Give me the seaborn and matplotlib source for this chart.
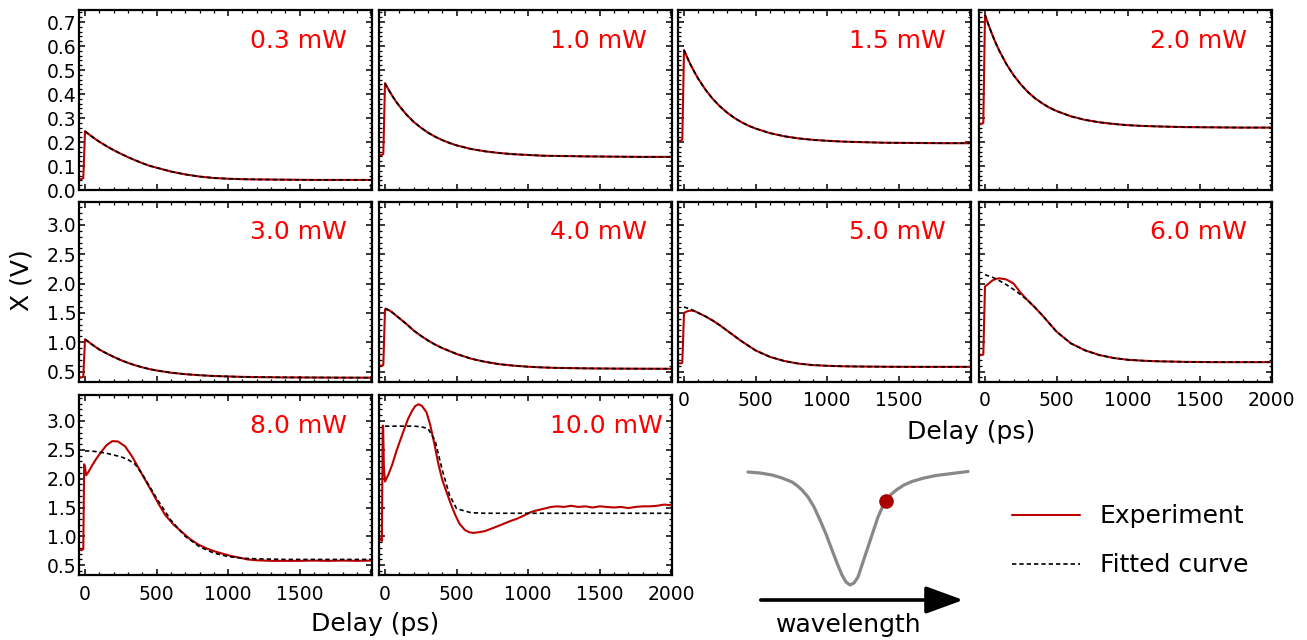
"""Pump-power series of X(V) transients with fitted curves, plus a probe-wavelength sketch."""
import matplotlib

matplotlib.use("Agg")
import matplotlib.pyplot as plt
import seaborn as sns
from matplotlib.ticker import AutoMinorLocator, MultipleLocator

# ---------------------------------------------------------------------------
# Data
# ---------------------------------------------------------------------------
# Common delay grid (ps) for the fitted curves
DELAY = [0, 25, 50, 75, 100, 150, 200, 250, 300, 350, 400, 450, 500,
         600, 700, 800, 900, 1000, 1100, 1200, 1400, 1600, 1800, 2000]
# Delay points before the pump arrives (experiment only)
PRE_DELAY = [-40, -25, -12]
EXP_DELAY = PRE_DELAY + DELAY

FIT_0_3 = [0.245, 0.233, 0.222, 0.211, 0.201, 0.183, 0.166, 0.151, 0.137, 0.124, 0.112, 0.101,
           0.093, 0.077, 0.065, 0.056, 0.050, 0.047, 0.045, 0.044, 0.043, 0.042, 0.042, 0.042]
FIT_1_0 = [0.445, 0.418, 0.393, 0.370, 0.350, 0.314, 0.284, 0.260, 0.239, 0.222, 0.208, 0.196,
           0.186, 0.171, 0.161, 0.154, 0.149, 0.146, 0.143, 0.142, 0.140, 0.139, 0.138, 0.138]
FIT_1_5 = [0.583, 0.549, 0.517, 0.489, 0.463, 0.418, 0.380, 0.349, 0.323, 0.301, 0.283, 0.268,
           0.256, 0.237, 0.224, 0.215, 0.209, 0.205, 0.202, 0.200, 0.197, 0.196, 0.195, 0.195]
FIT_2_0 = [0.730, 0.687, 0.648, 0.612, 0.580, 0.524, 0.478, 0.440, 0.408, 0.382, 0.361, 0.343,
           0.329, 0.307, 0.292, 0.282, 0.275, 0.270, 0.267, 0.265, 0.262, 0.261, 0.260, 0.260]
FIT_3_0 = [1.050, 1.005, 0.960, 0.917, 0.875, 0.810, 0.750, 0.695, 0.648, 0.607, 0.572, 0.542,
           0.518, 0.480, 0.455, 0.437, 0.424, 0.416, 0.409, 0.405, 0.400, 0.398, 0.396, 0.395]
FIT_4_0 = [1.58, 1.55, 1.51, 1.46, 1.41, 1.31, 1.20, 1.11, 1.03, 0.96, 0.90, 0.85,
           0.80, 0.72, 0.665, 0.625, 0.600, 0.582, 0.570, 0.562, 0.554, 0.550, 0.548, 0.547]
FIT_5_0 = [1.60, 1.58, 1.56, 1.53, 1.50, 1.44, 1.37, 1.29, 1.20, 1.11, 1.02, 0.94,
           0.86, 0.75, 0.68, 0.635, 0.610, 0.598, 0.590, 0.586, 0.582, 0.580, 0.580, 0.580]
FIT_6_0 = [2.15, 2.13, 2.11, 2.08, 2.05, 1.98, 1.90, 1.81, 1.71, 1.59, 1.46, 1.32,
           1.18, 0.98, 0.86, 0.78, 0.73, 0.70, 0.685, 0.675, 0.665, 0.660, 0.660, 0.660]
FIT_8_0 = [2.48, 2.48, 2.475, 2.47, 2.46, 2.44, 2.41, 2.38, 2.33, 2.25, 2.08, 1.87,
           1.66, 1.28, 1.00, 0.82, 0.71, 0.65, 0.62, 0.61, 0.60, 0.60, 0.60, 0.60]
FIT_10_0 = [2.91, 2.91, 2.91, 2.91, 2.91, 2.91, 2.91, 2.90, 2.87, 2.66, 2.15, 1.72,
            1.48, 1.41, 1.40, 1.40, 1.40, 1.40, 1.40, 1.40, 1.40, 1.40, 1.40, 1.40]

# Experiment traces: low baseline before time zero, then the measured decay
EXP_0_3 = [0.045, 0.045, 0.050] + FIT_0_3
EXP_1_0 = [0.145, 0.145, 0.150] + FIT_1_0
EXP_1_5 = [0.205, 0.205, 0.210] + FIT_1_5
EXP_2_0 = [0.275, 0.275, 0.280] + FIT_2_0
EXP_3_0 = [0.40, 0.40, 0.41] + FIT_3_0
EXP_4_0 = [0.60, 0.60, 0.61, 1.56, 1.55, 1.51, 1.46, 1.41, 1.31, 1.20, 1.11, 1.03, 0.96, 0.90,
           0.85, 0.80, 0.72, 0.665, 0.625, 0.600, 0.582, 0.570, 0.562, 0.554, 0.550, 0.548, 0.547]
EXP_5_0 = [0.64, 0.64, 0.65, 1.50, 1.53, 1.54, 1.53, 1.50, 1.44, 1.37, 1.29, 1.20, 1.11, 1.02,
           0.94, 0.86, 0.75, 0.68, 0.635, 0.610, 0.598, 0.590, 0.586, 0.582, 0.580, 0.580, 0.580]
EXP_6_0 = [0.78, 0.78, 0.79, 1.95, 2.00, 2.05, 2.08, 2.09, 2.07, 2.00, 1.84, 1.71, 1.59, 1.46,
           1.32, 1.18, 0.98, 0.86, 0.78, 0.73, 0.70, 0.685, 0.675, 0.665, 0.660, 0.660, 0.660]

EXP_DELAY_8 = [-40, -25, -12, -6, 0, 8, 25, 50, 75, 100, 150, 190, 230, 280, 330, 375, 420, 466,
               510, 560, 620, 675, 730, 790, 850, 905, 960, 1020, 1080, 1135, 1200, 1300, 1400,
               1500, 1600, 1700, 1800, 1900, 2000]
EXP_8_0 = [0.78, 0.76, 0.78, 2.25, 2.20, 2.06, 2.12, 2.23, 2.33, 2.42, 2.58, 2.65, 2.645, 2.56,
           2.38, 2.18, 1.98, 1.78, 1.58, 1.37, 1.20, 1.08, 0.96, 0.86, 0.79, 0.74, 0.70, 0.66,
           0.63, 0.60, 0.585, 0.575, 0.575, 0.575, 0.58, 0.575, 0.58, 0.575, 0.58]

EXP_DELAY_10 = [-40, -30, -22, -16, -13, -8, 0, 25, 50, 80, 120, 160, 190, 212, 235, 258, 290,
                316, 345, 374, 400, 431, 460, 489, 520, 558, 590, 616, 650, 697, 750, 812, 870,
                927, 970, 1019, 1060, 1112, 1160, 1204, 1250, 1300, 1350, 1400, 1450, 1500,
                1550, 1600, 1650, 1700, 1750, 1800, 1850, 1900, 1950, 2000]
EXP_10_0 = [0.97, 0.95, 0.92, 2.92, 2.90, 2.20, 1.95, 2.08, 2.24, 2.48, 2.76, 3.03, 3.18, 3.26,
            3.29, 3.26, 3.15, 2.93, 2.60, 2.24, 1.98, 1.76, 1.56, 1.38, 1.22, 1.11, 1.07, 1.06,
            1.07, 1.09, 1.14, 1.20, 1.26, 1.31, 1.36, 1.42, 1.45, 1.48, 1.51, 1.52, 1.51, 1.53,
            1.51, 1.52, 1.50, 1.52, 1.51, 1.50, 1.51, 1.49, 1.51, 1.52, 1.52, 1.53, 1.55, 1.54]

POWER_LABELS = ["0.3 mW", "1.0 mW", "1.5 mW", "2.0 mW", "3.0 mW",
                "4.0 mW", "5.0 mW", "6.0 mW", "8.0 mW", "10.0 mW"]

# Resonance sketch (arbitrary units)
SKETCH_WL = [8, 20, 32, 42, 52, 57, 62, 68, 74, 80, 86, 92, 97, 102, 106, 110, 114, 118, 123,
             128, 133, 138, 142, 146, 151, 157, 164, 172, 184, 196, 212, 228]
SKETCH_T = [138, 137, 135, 132, 128, 124.5, 120, 113, 103, 90, 76, 60, 47, 35, 28, 25, 27, 33,
            48, 63, 78, 93, 102, 109, 115.5, 120.5, 125, 128.5, 132, 134.5, 136.5, 138.5]
PROBE_WL = [146]
PROBE_T = [109]

# ---------------------------------------------------------------------------
# Layout (pixels of a 1307 x 640 canvas)
# ---------------------------------------------------------------------------
FIG_W, FIG_H = 1307, 640
COL_LEFT = [79, 379, 678, 979]
ROW_TOP = [10, 201.5, 395]
PANEL_W, PANEL_H = 293, 180
ROW_YLIM = [(0.0, 0.75), (0.33, 3.40), (0.33, 3.45)]
ROW_YSTEP = [0.1, 0.5, 0.5]

RED = "#bb0000"
FIT_STYLE = (0, (2.6, 1.8))

# (experiment x, experiment y, fit y) in panel order
PANEL_DATA = [
    (EXP_DELAY, EXP_0_3, FIT_0_3), (EXP_DELAY, EXP_1_0, FIT_1_0),
    (EXP_DELAY, EXP_1_5, FIT_1_5), (EXP_DELAY, EXP_2_0, FIT_2_0),
    (EXP_DELAY, EXP_3_0, FIT_3_0), (EXP_DELAY, EXP_4_0, FIT_4_0),
    (EXP_DELAY, EXP_5_0, FIT_5_0), (EXP_DELAY, EXP_6_0, FIT_6_0),
    (EXP_DELAY_8, EXP_8_0, FIT_8_0), (EXP_DELAY_10, EXP_10_0, FIT_10_0),
]
# panels that show delay tick labels, and those that drop the last one
SHOW_X_LABELS = {6, 7, 8, 9}
DROP_LAST_X = {6, 8}

sns.set_style("ticks")
plt.rcParams.update({
    "font.family": ["DejaVu Sans"],
    "axes.edgecolor": "black",
    "axes.linewidth": 1.6,
    "xtick.color": "black",
    "ytick.color": "black",
    "text.color": "black",
})


def px_rect(left, top, width, height):
    """Convert a pixel box (from top-left) to figure fractions."""
    return [left / FIG_W, 1 - (top + height) / FIG_H, width / FIG_W, height / FIG_H]


fig = plt.figure(figsize=(FIG_W / 100, FIG_H / 100), dpi=100)

axes = []
for i, ((exp_x, exp_y, fit_y), label) in enumerate(zip(PANEL_DATA, POWER_LABELS)):
    row, col = divmod(i, 4)
    ax = fig.add_axes(px_rect(COL_LEFT[col], ROW_TOP[row], PANEL_W, PANEL_H))
    axes.append(ax)

    # Experiment (solid red) and fit (black dashed)
    sns.lineplot(x=exp_x, y=exp_y, ax=ax, color=RED, linewidth=1.5,
                 errorbar=None, label="Experiment", legend=False)
    sns.lineplot(x=DELAY, y=fit_y, ax=ax, color="black", linewidth=1.2,
                 linestyle=FIT_STYLE, errorbar=None, label="Fitted curve", legend=False)

    ax.set_xlim(-42, 2005)
    ax.set_ylim(*ROW_YLIM[row])
    ax.xaxis.set_major_locator(MultipleLocator(500))
    ax.xaxis.set_minor_locator(MultipleLocator(100))
    ax.yaxis.set_major_locator(MultipleLocator(ROW_YSTEP[row]))
    ax.yaxis.set_minor_locator(AutoMinorLocator(5))
    ax.tick_params(which="both", direction="in", top=True, right=True)
    ax.tick_params(which="major", length=4, width=1.1)
    ax.tick_params(which="minor", length=2, width=0.9)
    ax.tick_params(axis="x", pad=7, labelsize=13.5)
    ax.tick_params(axis="y", pad=2, labelsize=13.5)
    ax.set_xlabel("")
    ax.set_ylabel("")

    ax.tick_params(labelleft=(col == 0), labelbottom=(i in SHOW_X_LABELS))
    if i in DROP_LAST_X:
        ax.set_xticks([0, 500, 1000, 1500, 2000])
        ax.set_xticklabels(["0", "500", "1000", "1500", ""])

    ax.text(0.584, 0.79, label, transform=ax.transAxes, ha="left", va="baseline",
            color="red", fontsize=18)

# Shared axis titles
fig.text(22 / FIG_W, 1 - 280 / FIG_H, "X (V)", rotation=90, ha="center", va="center",
         fontsize=18)
fig.text(375 / FIG_W, 1 - 624 / FIG_H, "Delay (ps)", ha="center", va="center", fontsize=18)
fig.text(971 / FIG_W, 1 - 432 / FIG_H, "Delay (ps)", ha="center", va="center", fontsize=18)

# Resonance sketch with the probe position
sketch = fig.add_axes(px_rect(740, 455, 235, 155))
sns.lineplot(x=SKETCH_WL, y=SKETCH_T, ax=sketch, color="#888888", linewidth=2.3,
             errorbar=None, sort=False)
sketch.plot(PROBE_WL, PROBE_T, "o", color="#aa0000", markersize=9.5, zorder=3)
sketch.annotate("", xy=(226, 10), xytext=(18, 10),
                arrowprops=dict(arrowstyle="-|>,head_length=1.15,head_width=0.42",
                                mutation_scale=20, lw=2.6, color="black"))
sketch.set_xlim(0, 235)
sketch.set_ylim(0, 155)
sketch.axis("off")
fig.text(849 / FIG_W, 1 - 625 / FIG_H, "wavelength", ha="center", va="center", fontsize=18)

# Legend
handles = axes[0].get_lines()[:2]
fig.legend(handles=handles, labels=["Experiment", "Fitted curve"], loc="center left",
           bbox_to_anchor=(1012 / FIG_W, 1 - 541 / FIG_H), frameon=False, fontsize=18,
           handlelength=2.7, handletextpad=0.8, labelspacing=1.0, borderpad=0,
           borderaxespad=0)

fig.savefig("out.png", dpi=100)
plt.close(fig)
